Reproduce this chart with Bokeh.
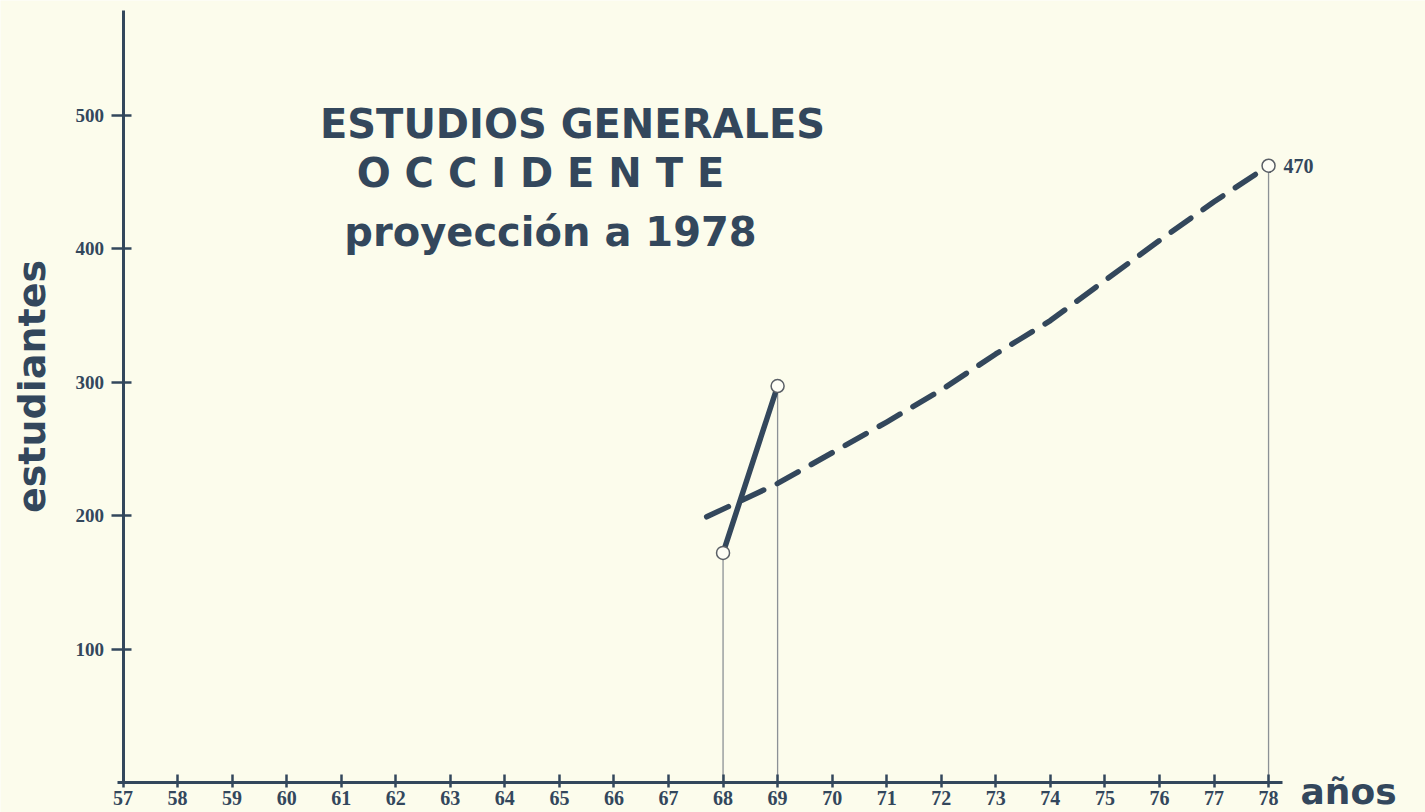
import math
from bokeh.plotting import figure
from bokeh.models import Range1d, FixedTicker, Label
from bokeh.embed import file_html
from bokeh.resources import INLINE

# ---------------- data ----------------
year_ticks = list(range(57, 79))
student_ticks = [100, 200, 300, 400, 500]

actual_years = [68, 69]
actual_students = [172, 297]

proj_years = [67.7, 69, 70, 71, 72, 73, 74, 75, 76, 77, 78]
proj_students = [199, 224, 247, 270, 294, 321, 346, 376, 406, 435, 462]

marker_years = [68, 69, 78]
marker_students = [172, 297, 462]

end_label = "470"
title_lines = ["ESTUDIOS GENERALES", "O C C I D E N T E", "proyección a 1978"]
y_label = "estudiantes"
x_label = "años"

# ---------------- layout / style ----------------
INK = "#33475c"
BG = "#fcfcec"
GUIDE = "#8c9196"

W, H = 1425, 812
PX_PER_YEAR = 54.55
PX_PER_UNIT = 1.335
X0_PIX = 122.5      # pixel of year 57
Y0_PIX = 782.0      # pixel of 0 students


def px(page_x):
    return 57 + (page_x - X0_PIX) / PX_PER_YEAR


def py(page_y):
    return (Y0_PIX - page_y) / PX_PER_UNIT


p = figure(width=W, height=H, output_backend="svg", toolbar_location=None,
           x_range=Range1d(px(0), px(W)), y_range=Range1d(py(H), py(0)),
           min_border=0,
           background_fill_color=BG, border_fill_color=BG)
p.outline_line_color = None
p.grid.visible = False

xa = p.xaxis[0]
xa.fixed_location = 0
xa.bounds = (px(117), px(1282))
xa.ticker = FixedTicker(ticks=year_ticks)
xa.axis_line_color = INK
xa.axis_line_width = 3
xa.major_tick_line_color = INK
xa.major_tick_line_width = 2.5
xa.major_tick_in = 8
xa.major_tick_out = 5
xa.minor_tick_line_color = None
xa.major_label_text_font = "Liberation Serif"
xa.major_label_text_font_style = "bold"
xa.major_label_text_font_size = "20px"
xa.major_label_text_color = INK
xa.major_label_standoff = 3

ya = p.yaxis[0]
ya.fixed_location = 57
ya.bounds = (py(783), py(10))
ya.ticker = FixedTicker(ticks=student_ticks)
ya.axis_line_color = INK
ya.axis_line_width = 3
ya.major_tick_line_color = INK
ya.major_tick_line_width = 2.5
ya.major_tick_in = 8
ya.major_tick_out = 12
ya.minor_tick_line_color = None
ya.major_label_text_font = "Liberation Serif"
ya.major_label_text_font_style = "bold"
ya.major_label_text_font_size = "19px"
ya.major_label_text_color = INK
ya.major_label_standoff = 7

# guide lines from points down to the axis
p.segment(x0=marker_years, y0=[0] * len(marker_years), x1=marker_years,
          y1=marker_students, line_color=GUIDE, line_width=1.3)

# projection (dashed)
p.line(proj_years, proj_students, line_color=INK, line_width=5.5,
       line_dash="24 15", line_cap="round", line_join="round")

# actual enrolment (solid)
p.line(actual_years, actual_students, line_color=INK, line_width=5.5,
       line_cap="round")

# open circle markers
p.scatter(marker_years, marker_students, size=13, marker="circle",
          fill_color="#fefef6", line_color="#5a5f66", line_width=1.5)

# end value label
p.add_layout(Label(x=marker_years[-1], y=marker_students[-1], x_offset=15,
                   text=end_label, text_align="left", text_baseline="middle",
                   text_font="Liberation Serif", text_font_style="bold",
                   text_font_size="20px", text_color=INK))

# titles
title_pos = [(572, 123), (540, 172), (550, 231)]
for txt, (cx, cy) in zip(title_lines, title_pos):
    p.add_layout(Label(x=px(cx), y=py(cy), text=txt, text_align="center",
                       text_baseline="middle", text_font="DejaVu Sans",
                       text_font_style="bold", text_font_size="40px",
                       text_color=INK))

# axis captions
p.add_layout(Label(x=px(31), y=py(386), text=y_label, angle=math.pi / 2,
                   text_align="center", text_baseline="middle",
                   text_font="DejaVu Sans", text_font_style="bold",
                   text_font_size="38px", text_color=INK))

p.add_layout(Label(x=px(1300), y=py(791), text=x_label, text_align="left",
                   text_baseline="middle", text_font="DejaVu Sans",
                   text_font_style="bold", text_font_size="36px",
                   text_color=INK))

open("out.html", "w").write(file_html(p, INLINE))
